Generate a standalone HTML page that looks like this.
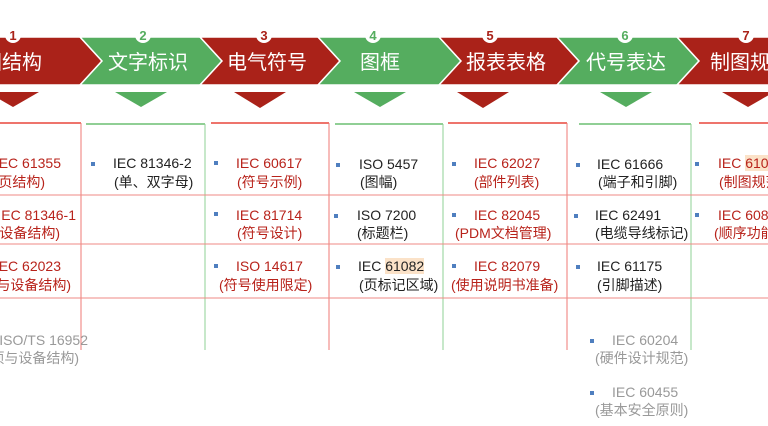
<!DOCTYPE html>
<html><head><meta charset="utf-8"><style>
body{margin:0;width:768px;height:426px;overflow:hidden;background:#fff;position:relative;font-family:"Liberation Sans","Noto Sans CJK SC",sans-serif;}
.t{position:absolute;font-size:14px;line-height:18px;white-space:nowrap;}
.r{color:#b8231b}.k{color:#222}.g{color:#999}
.b{position:absolute;width:4px;height:4px;background:#4f7fbf}
.hl{background:#fbe2c8}
</style></head><body>
<svg width="768" height="426" style="position:absolute;left:0;top:0">
<g stroke="#fff" stroke-width="1.5">
<polygon points="-40,37 80,37 102,61 80,85 -40,85 -18,61" fill="#aa2219"/>
<polygon points="80,37 200,37 222,61 200,85 80,85 102,61" fill="#55ad5f"/>
<polygon points="200,37 318,37 340,61 318,85 200,85 222,61" fill="#aa2219"/>
<polygon points="318,37 439,37 461,61 439,85 318,85 340,61" fill="#55ad5f"/>
<polygon points="439,37 557,37 579,61 557,85 439,85 461,61" fill="#aa2219"/>
<polygon points="557,37 677,37 699,61 677,85 557,85 579,61" fill="#55ad5f"/>
<polygon points="677,37 800,37 822,61 800,85 677,85 699,61" fill="#aa2219"/>
</g>
<g font-family="Liberation Sans, Noto Sans CJK SC, sans-serif" font-size="20" fill="#fff" text-anchor="middle">
<text x="2" y="69">制图结构</text>
<text x="148" y="69">文字标识</text>
<text x="267" y="69">电气符号</text>
<text x="380" y="69">图框</text>
<text x="506" y="69">报表表格</text>
<text x="626" y="69">代号表达</text>
<text x="750" y="69">制图规范</text>
</g>
<g font-family="Liberation Sans, sans-serif" font-size="13" font-weight="bold" text-anchor="middle">
<circle cx="13" cy="35" r="8" fill="#fff"/><text x="13" y="40" fill="#aa2219">1</text>
<circle cx="143" cy="35" r="8" fill="#fff"/><text x="143" y="40" fill="#55ad5f">2</text>
<circle cx="264" cy="35" r="8" fill="#fff"/><text x="264" y="40" fill="#aa2219">3</text>
<circle cx="373" cy="35" r="8" fill="#fff"/><text x="373" y="40" fill="#55ad5f">4</text>
<circle cx="490" cy="35" r="8" fill="#fff"/><text x="490" y="40" fill="#aa2219">5</text>
<circle cx="625" cy="35" r="8" fill="#fff"/><text x="625" y="40" fill="#55ad5f">6</text>
<circle cx="746" cy="35" r="8" fill="#fff"/><text x="746" y="40" fill="#aa2219">7</text>
</g>
<polygon points="-13,92 39,92 13,107" fill="#aa2219"/>
<polygon points="115,92 167,92 141,107" fill="#55ad5f"/>
<polygon points="234,92 286,92 260,108" fill="#aa2219"/>
<polygon points="354,92 406,92 380,107" fill="#55ad5f"/>
<polygon points="457,92 509,92 483,108" fill="#aa2219"/>
<polygon points="600,92 652,92 626,107" fill="#55ad5f"/>
<polygon points="722,92 774,92 748,107" fill="#aa2219"/>
<g stroke-width="1.5">
<line x1="0" y1="123" x2="81" y2="123" stroke="#e8463c"/>
<line x1="86" y1="124" x2="205" y2="124" stroke="#6cbf72"/>
<line x1="211" y1="123" x2="329" y2="123" stroke="#e8463c"/>
<line x1="335" y1="124" x2="443" y2="124" stroke="#6cbf72"/>
<line x1="448" y1="123" x2="567" y2="123" stroke="#e8463c"/>
<line x1="579" y1="124" x2="691" y2="124" stroke="#6cbf72"/>
<line x1="699" y1="123" x2="768" y2="123" stroke="#e8463c"/>
</g>
<g stroke-width="1">
<line x1="81" y1="123" x2="81" y2="350" stroke="#ef7a74"/>
<line x1="205" y1="124" x2="205" y2="350" stroke="#8fd094"/>
<line x1="329" y1="123" x2="329" y2="350" stroke="#ef7a74"/>
<line x1="443" y1="124" x2="443" y2="350" stroke="#8fd094"/>
<line x1="567" y1="123" x2="567" y2="350" stroke="#ef7a74"/>
<line x1="691" y1="124" x2="691" y2="350" stroke="#8fd094"/>
<line x1="0" y1="195" x2="768" y2="195" stroke="#ef8a84"/>
<line x1="0" y1="244" x2="768" y2="244" stroke="#ef8a84"/>
<line x1="0" y1="298" x2="768" y2="298" stroke="#ef8a84"/>
</g>
</svg>
<!-- col1 -->
<div class="t r" style="right:707px;top:154px">IEC 61355</div>
<div class="t r" style="right:723px;top:173px">(分页结构)</div>
<div class="t r" style="right:692px;top:206px">IEC 81346-1</div>
<div class="t r" style="right:708px;top:224px">(设备结构)</div>
<div class="t r" style="right:707px;top:257px">IEC 62023</div>
<div class="t r" style="right:697px;top:276px">(项目与设备结构)</div>
<div class="t g" style="right:680px;top:331px">ISO/TS 16952</div>
<div class="t g" style="right:689px;top:349px">(项与设备结构)</div>
<!-- bullets -->
<div class="b" style="left:91px;top:162px"></div>
<div class="b" style="left:214px;top:161px"></div>
<div class="b" style="left:214px;top:212px"></div>
<div class="b" style="left:214px;top:264px"></div>
<div class="b" style="left:336px;top:163px"></div>
<div class="b" style="left:334px;top:214px"></div>
<div class="b" style="left:336px;top:265px"></div>
<div class="b" style="left:452px;top:162px"></div>
<div class="b" style="left:452px;top:213px"></div>
<div class="b" style="left:452px;top:264px"></div>
<div class="b" style="left:576px;top:163px"></div>
<div class="b" style="left:574px;top:214px"></div>
<div class="b" style="left:576px;top:265px"></div>
<div class="b" style="left:590px;top:339px"></div>
<div class="b" style="left:590px;top:391px"></div>
<div class="b" style="left:695px;top:162px"></div>
<div class="b" style="left:695px;top:213px"></div>
<!-- col2 -->
<div class="t k" style="left:113px;top:154px">IEC 81346-2</div>
<div class="t k" style="left:114px;top:173px">(单、双字母)</div>
<!-- col3 -->
<div class="t r" style="left:236px;top:154px">IEC 60617</div>
<div class="t r" style="left:237px;top:173px">(符号示例)</div>
<div class="t r" style="left:236px;top:206px">IEC 81714</div>
<div class="t r" style="left:237px;top:224px">(符号设计)</div>
<div class="t r" style="left:236px;top:257px">ISO 14617</div>
<div class="t r" style="left:219px;top:276px">(符号使用限定)</div>
<!-- col4 -->
<div class="t k" style="left:359px;top:155px">ISO 5457</div>
<div class="t k" style="left:360px;top:173px">(图幅)</div>
<div class="t k" style="left:357px;top:206px">ISO 7200</div>
<div class="t k" style="left:357px;top:224px">(标题栏)</div>
<div class="t k" style="left:358px;top:257px">IEC <span class="hl">61082</span></div>
<div class="t k" style="left:359px;top:276px">(页标记区域)</div>
<!-- col5 -->
<div class="t r" style="left:474px;top:154px">IEC 62027</div>
<div class="t r" style="left:474px;top:173px">(部件列表)</div>
<div class="t r" style="left:474px;top:206px">IEC 82045</div>
<div class="t r" style="left:455px;top:224px">(PDM文档管理)</div>
<div class="t r" style="left:474px;top:257px">IEC 82079</div>
<div class="t r" style="left:451px;top:276px">(使用说明书准备)</div>
<!-- col6 -->
<div class="t k" style="left:597px;top:155px">IEC 61666</div>
<div class="t k" style="left:598px;top:173px">(端子和引脚)</div>
<div class="t k" style="left:595px;top:206px">IEC 62491</div>
<div class="t k" style="left:595px;top:224px">(电缆导线标记)</div>
<div class="t k" style="left:597px;top:257px">IEC 61175</div>
<div class="t k" style="left:597px;top:276px">(引脚描述)</div>
<div class="t g" style="left:612px;top:331px">IEC 60204</div>
<div class="t g" style="left:595px;top:349px">(硬件设计规范)</div>
<div class="t g" style="left:612px;top:383px">IEC 60455</div>
<div class="t g" style="left:595px;top:401px">(基本安全原则)</div>
<!-- col7 -->
<div class="t r" style="left:718px;top:154px">IEC <span class="hl">61082</span></div>
<div class="t r" style="left:719px;top:173px">(制图规范)</div>
<div class="t r" style="left:718px;top:206px">IEC 60848</div>
<div class="t r" style="left:714px;top:224px">(顺序功能图)</div>
</body></html>
